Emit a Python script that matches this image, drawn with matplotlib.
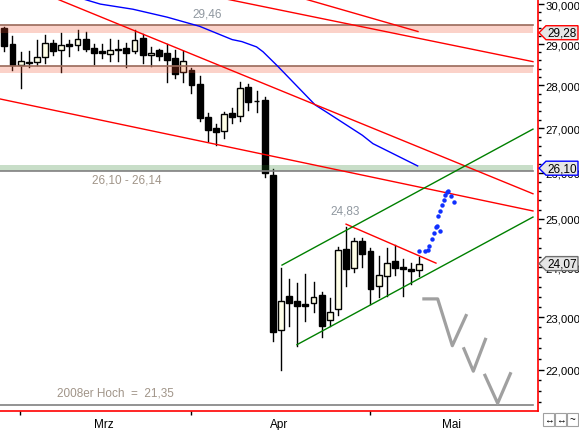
import matplotlib.pyplot as plt
from matplotlib.patches import Polygon, Rectangle
from matplotlib.ticker import FixedLocator, MultipleLocator, NullFormatter, FuncFormatter

plt.rcParams['font.family'] = ['Liberation Sans', 'DejaVu Sans']

# daily candles (x = trading day index)
opens = [29.39, 29.00, 28.50, 28.53, 28.56, 28.68, 29.03, 28.86, 29.00, 28.97, 29.13, 28.90, 28.83,
         28.75, 28.88, 28.90, 28.82, 29.15, 28.73, 28.85, 28.78, 28.66, 28.31, 28.37, 28.03, 27.25,
         27.00, 26.93, 27.35, 27.29, 27.97, 27.64, 27.66, 25.95, 22.76, 23.41, 23.32, 23.25, 23.27,
         23.44, 22.94, 23.17, 24.37, 23.99, 24.54, 24.33, 23.62, 23.81, 24.12, 24.01, 23.96, 23.94]
highs = [29.42, 29.21, 28.81, 28.84, 29.11, 29.23, 29.11, 29.28, 29.11, 29.36, 29.30, 29.00, 28.99,
         29.13, 29.11, 29.03, 29.34, 29.25, 28.92, 28.88, 28.99, 28.85, 28.84, 28.41, 28.22, 27.35,
         27.10, 27.37, 27.47, 28.07, 28.03, 27.86, 27.72, 26.08, 23.98, 23.76, 23.68, 23.86, 23.69,
         23.49, 23.37, 24.41, 24.83, 24.59, 24.59, 24.39, 24.23, 24.39, 24.45, 24.17, 24.09, 24.21]
lows = [28.84, 28.37, 27.93, 28.43, 28.50, 28.53, 28.74, 28.33, 28.70, 28.86, 28.82, 28.52, 28.66,
        28.58, 28.58, 28.43, 28.77, 28.53, 28.47, 28.60, 28.09, 28.17, 28.07, 27.83, 27.17, 26.71,
        26.61, 26.77, 27.11, 27.17, 27.43, 27.37, 25.90, 22.54, 22.00, 22.83, 22.44, 22.92, 23.11,
        22.61, 22.83, 23.05, 23.62, 23.90, 24.01, 23.25, 23.39, 23.41, 23.83, 23.42, 23.66, 23.81]
closes = [28.96, 28.50, 28.58, 28.57, 28.68, 29.03, 28.84, 28.97, 28.94, 29.12, 28.88, 28.79, 28.79,
          28.86, 28.86, 28.79, 29.10, 28.73, 28.78, 28.70, 28.60, 28.28, 28.59, 28.01, 27.23, 26.96,
          26.92, 27.33, 27.27, 27.95, 27.60, 27.62, 25.99, 22.71, 23.32, 23.27, 23.21, 23.21, 23.40,
          22.83, 23.11, 24.35, 23.97, 24.54, 24.26, 23.56, 23.84, 24.09, 23.99, 23.97, 23.91, 24.07]

# moving average (blue)
ma_x = [9.7, 11.8, 15.8, 20.0, 24.0, 28.0, 29.2, 31.0, 31.8, 33.6, 38.2, 39.7, 44.0, 45.3, 50.8]
ma_y = [30.13, 30.00, 29.87, 29.67, 29.44, 29.11, 29.06, 28.93, 28.81, 28.46, 27.54, 27.36,
        26.84, 26.65, 26.15]

# trend lines: (x0, y0, x1, y1)
red_lines = [(6.48, 30.13, 64.97, 25.54),
             (-0.53, 27.68, 64.97, 25.17),
             (27.25, 30.13, 64.97, 28.57),
             (36.95, 30.13, 50.84, 29.31),
             (42.0, 24.89, 53.05, 24.08)]
green_lines = [(34.13, 24.04, 64.97, 26.98),
               (35.97, 22.47, 64.97, 25.04)]

# projected path (blue dots)
dots_x = [50.96, 51.7, 52.03, 52.23, 52.53, 52.81, 53.05, 53.21, 53.51, 53.34, 53.58, 53.83,
          54.04, 54.16, 54.37, 54.57, 54.86, 55.27]
dots_y = [24.33, 24.33, 24.35, 24.44, 24.58, 24.71, 24.84, 24.86, 24.75, 25.06, 25.17, 25.29,
          25.41, 25.52, 25.58, 25.60, 25.50, 25.36]

# alternative scenario (grey zigzag)
zig_x = [[51.37, 53.26, 55.06, 56.83], [56.41, 57.64, 59.2], [58.99, 60.63, 62.27]]
zig_y = [[23.36, 23.36, 22.45, 23.06], [22.42, 21.97, 22.60], [21.92, 21.38, 21.95]]

# horizontal zones
pink_zones = [(29.28, 29.46), (28.30, 28.46)]
green_zone = (26.03, 26.17)
low_2008 = 21.35

y_ticks = [22, 23, 24, 25, 26, 27, 28, 29, 30]
month_ticks = [1.93, 22.94, 44.94]
month_pos = [12.25, 33.76, 55.0]
month_names = ['Mrz', 'Apr', 'Mai']
tags = [(29.28, 'red'), (26.10, 'blue'), (24.07, '#707070')]

W, H = 579, 431
fig = plt.figure(figsize=(W / 100, H / 100), dpi=100)
ax = fig.add_axes([0, 19 / H, 538 / W, 412 / H])
ax.set_yscale('log')
ax.set_xlim(-0.53, 65.59)
ax.set_ylim(21.24, 30.13)

# candles
for i in range(len(opens)):
    o, h, l, c = opens[i], highs[i], lows[i], closes[i]
    ax.plot([i, i], [l, h], color='black', lw=1, zorder=2)
    lo, hi = min(o, c), max(o, c)
    fc = '#FFFFE8' if c > o else 'black'
    ax.add_patch(Rectangle((i - 0.36, lo), 0.72, max(hi - lo, 0.015), fc=fc, ec='black',
                           lw=1, zorder=2.5))

# zones
xm = 533 / 538
for lo, hi in pink_zones:
    ax.axhspan(lo, hi, xmax=xm, color=(0.94, 0.31, 0.16), alpha=0.25, lw=0, zorder=3)
    ax.axhline(hi, xmax=xm, color='#9A6A5A', lw=1.2, zorder=3.1)
ax.axhspan(green_zone[0], green_zone[1], xmax=xm, color=(0.14, 0.49, 0.14), alpha=0.25, lw=0, zorder=3)
ax.axhline(green_zone[0], xmax=xm, color='#808080', lw=1.2, zorder=3.1)
ax.axhline(low_2008, xmax=xm, color='#808080', lw=1.2, zorder=3.1)

# lines
ax.plot(ma_x, ma_y, color='blue', lw=1, zorder=4)
for x0, y0, x1, y1 in red_lines:
    ax.plot([x0, x1], [y0, y1], color='red', lw=1, zorder=4)
for x0, y0, x1, y1 in green_lines:
    ax.plot([x0, x1], [y0, y1], color='green', lw=1, zorder=4)
ax.plot(dots_x, dots_y, 'o', color='#1030FF', ms=3.2, mec='none', zorder=5)
for zx, zy in zip(zig_x, zig_y):
    ax.plot(zx, zy, color='#A0A0A0', lw=2.3, solid_capstyle='butt', zorder=5)

# labels in the chart
ax.text(24.91, 29.77, '29,46', color='#9098A0', fontsize=8.5, ha='center', va='center', zorder=6)
ax.text(15.08, 25.84, '26,10 - 26,14', color='#A09488', fontsize=8.5, ha='center', va='center', zorder=6)
ax.text(41.83, 25.17, '24,83', color='#9098A0', fontsize=8.5, ha='center', va='center', zorder=6)
ax.text(13.6, 21.57, '2008er Hoch  =  21,35', color='#A09488', fontsize=8.5, ha='center',
        va='center', zorder=6)

# axes styling
for s in ['top', 'left']:
    ax.spines[s].set_visible(False)
for s in ['right', 'bottom']:
    ax.spines[s].set_color('red')
    ax.spines[s].set_linewidth(1.2)

ax.yaxis.tick_right()
ax.yaxis.set_major_locator(FixedLocator(y_ticks))
ax.yaxis.set_minor_locator(MultipleLocator(0.2))
ax.yaxis.set_major_formatter(FuncFormatter(lambda v, p: f'{v:.3f}'.replace('.', ',')))
ax.yaxis.set_minor_formatter(NullFormatter())
ax.tick_params(axis='y', which='major', length=4, width=1, pad=1.5, labelsize=8.2, colors='black')
ax.tick_params(axis='y', which='minor', length=2, width=1, colors='black')

ax.set_xticks(month_ticks)
ax.set_xticklabels(['', '', ''])
ax.set_xticks(month_pos, minor=True)
ax.set_xticklabels(month_names, minor=True)
ax.tick_params(axis='x', which='major', length=3, width=1, colors='black')
ax.tick_params(axis='x', which='minor', length=0, pad=5, labelsize=8.5)

# price tags on the right axis
to_fig = fig.transFigure.inverted()
for val, ec in tags:
    cy = to_fig.transform(ax.transData.transform((0, val)))[1] * H
    pts = [(539, cy), (546, cy + 7), (578, cy + 7), (578, cy - 7), (546, cy - 7)]
    fig.patches.append(Polygon([(px / W, py / H) for px, py in pts], closed=True, fc='#E6E6E6',
                               ec=ec, lw=1, transform=fig.transFigure, zorder=10))
    fig.text(562 / W, cy / H, f'{val:.2f}'.replace('.', ','), fontsize=8.5, ha='center',
             va='center', zorder=11)

# small buttons bottom right
for k, sym in enumerate(['↔', '↔', '~']):
    x0 = 543 + k * 12
    fig.patches.append(Rectangle((x0 / W, 4 / H), 11 / W, 13 / H, fc='white', ec='#A0A0A0',
                                 lw=0.8, transform=fig.transFigure))
    fig.text((x0 + 5.5) / W, 10.5 / H, sym, fontsize=7, ha='center', va='center')

fig.savefig('out.png', dpi=100)
